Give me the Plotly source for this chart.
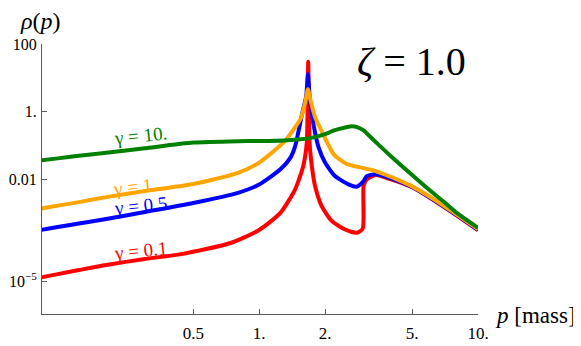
"""
Spectral function rho(p) for several widths gamma at zeta = 1.0 (log-log)
"""

import numpy as np
import plotly.graph_objects as go

# values
p_g10 = [0.1, 0.12, 0.15, 0.2, 0.3, 0.5, 0.8, 1.0, 1.3, 1.5, 1.7, 1.9, 2.0, 2.2,
         2.5, 2.65, 2.8, 3.0, 3.2, 3.5, 4.0, 5.0, 6.0, 7.0, 8.0, 10.0]
rho_g10 = [0.0370, 0.0425, 0.0505, 0.0620, 0.0845, 0.124, 0.137, 0.139, 0.144, 0.152,
           0.168, 0.200, 0.220, 0.284, 0.352, 0.376, 0.357, 0.284, 0.19, 0.11, 0.049,
           0.0137, 0.00497, 0.0022, 0.00105, 0.00038]

p_g1 = [0.1, 0.12, 0.15, 0.2, 0.3, 0.5, 0.8, 1.0, 1.3, 1.45, 1.55, 1.62, 1.67, 1.72,
        1.8, 1.9, 2.0, 2.2, 2.5, 2.9, 3.4, 4.0, 5.0, 6.0, 7.0, 8.0, 10.0]
rho_g1 = [0.00140, 0.00172, 0.00218, 0.00306, 0.00462, 0.00745, 0.0158, 0.0320, 0.130,
          0.33, 0.65, 1.8, 4.6, 2.05, 0.70, 0.33, 0.167, 0.054, 0.0295, 0.023, 0.018,
          0.0121, 0.00635, 0.0032, 0.00168, 0.00094, 0.00035]

p_g05 = [0.1, 0.12, 0.15, 0.2, 0.3, 0.5, 0.8, 1.0, 1.25, 1.39, 1.46, 1.57, 1.64, 1.67,
         1.70, 1.74, 1.80, 1.87, 2.0, 2.22, 2.56, 2.79, 3.0, 3.1, 3.39, 4.0, 5.0, 6.0,
         7.0, 8.0, 10.0]
rho_g05 = [0.000330, 0.000405, 0.000512, 0.000695, 0.00112, 0.00206, 0.0041, 0.0072,
           0.0202, 0.0448, 0.098, 0.86, 2.9, 13.0, 2.9, 0.86, 0.245, 0.088, 0.032,
           0.0128, 0.00728, 0.00622, 0.0091, 0.0128, 0.0144, 0.0109, 0.0061,
           0.00305, 0.0016, 0.0009, 0.00033]

p_g01 = [0.1, 0.12, 0.15, 0.2, 0.3, 0.44, 0.74, 1.0, 1.25, 1.46, 1.59, 1.65, 1.675,
         1.70, 1.74, 1.80, 1.93, 2.15, 2.47, 2.79, 2.97, 3.0, 3.1, 3.4, 4.0, 5.0, 6.0,
         7.0, 8.0, 10.0]
rho_g01 = [1.30e-5, 1.65e-5, 2.17e-5, 3.06e-5, 4.6e-5, 6.4e-5, 1.36e-4, 3.3e-4,
           1.05e-3, 5.2e-3, 0.0255, 0.125, 30.0, 0.118, 0.0255, 0.0065, 0.00166, 0.0006,
           0.00034, 0.000272, 0.000355, 0.0065, 0.0102, 0.0137, 0.0102, 0.006,
           0.003, 0.00157, 0.00088, 0.000325]

series = [
    ("γ = 0.1", p_g01, rho_g01, "#ff0000"),
    ("γ = 0.5", p_g05, rho_g05, "#0000ff"),
    ("γ = 1.", p_g1, rho_g1, "#ffa500"),
    ("γ = 10.", p_g10, rho_g10, "#008000"),
]

x_ticks = [0.5, 1, 2, 5, 10]
x_ticktext = ["0.5", "1.", "2.", "5.", "10."]
y_ticks = [100, 1, 0.01, 1e-5]
y_ticktext = ["100", "1.", "0.01", "10<sup>−5</sup>"]

SERIF = "Liberation Serif, Times New Roman, Times, serif"
AXIS_GREY = "#5a5a5a"

fig = go.Figure()
for name, p, rho, color in series:
    fig.add_trace(go.Scatter(x=p, y=rho, mode="lines", name=name,
                             line=dict(color=color, width=4, shape="spline",
                                       smoothing=0.6)))

# curve labels (log10 coordinates for log axes)
labels = [
    ("γ = 10.", -0.543, -0.71, "#008000"),
    ("γ = 1.", -0.566, -2.19, "#ffa500"),
    ("γ = 0.5", -0.543, -2.75, "#0000ff"),
    ("γ = 0.1", -0.543, -4.08, "#ff0000"),
]
for text, lx, ly, color in labels:
    fig.add_annotation(x=lx, y=ly, xref="x", yref="y", text=text, showarrow=False,
                       textangle=-6, font=dict(family=SERIF, size=19, color=color))

fig.add_annotation(x=-0.004, y=1.085, xref="paper", yref="paper",
                   xanchor="center", yanchor="middle",
                   text="<i>ρ</i>(<i>p</i>)", showarrow=False,
                   font=dict(family=SERIF, size=24, color="black"))
fig.add_annotation(x=1.131, y=-0.007, xref="paper", yref="paper",
                   xanchor="center", yanchor="middle",
                   text="<i>p</i> [mass]", showarrow=False,
                   font=dict(family=SERIF, size=23, color="black"))
fig.add_annotation(x=0.848, y=0.937, xref="paper", yref="paper",
                   xanchor="center", yanchor="middle",
                   text="<i>ζ</i> = 1.0", showarrow=False,
                   font=dict(family=SERIF, size=40, color="black"))

fig.update_xaxes(type="log", range=[np.log10(0.1017), 1.0], automargin=False,
                 tickmode="array", tickvals=x_ticks, ticktext=x_ticktext,
                 ticks="inside", ticklen=5, tickcolor=AXIS_GREY,
                 showline=True, linecolor=AXIS_GREY, linewidth=1,
                 showgrid=False, zeroline=False, ticklabelstandoff=4,
                 tickfont=dict(family=SERIF, size=17, color="black"))
fig.update_yaxes(type="log", range=[np.log10(1.1e-6), 2.0], automargin=False,
                 tickmode="array", tickvals=y_ticks, ticktext=y_ticktext,
                 ticks="inside", ticklen=5, tickcolor=AXIS_GREY,
                 showline=True, linecolor=AXIS_GREY, linewidth=1,
                 showgrid=False, zeroline=False, ticklabelstandoff=1,
                 tickfont=dict(family=SERIF, size=16, color="black"))

# the page body adds an 8px offset, so the figure is 8px smaller than the window
fig.update_layout(
    width=573, height=338,
    margin=dict(l=34, r=103, t=36, b=32),
    showlegend=False,
    plot_bgcolor="white",
    paper_bgcolor="white",
)

fig.write_html("out.html")
